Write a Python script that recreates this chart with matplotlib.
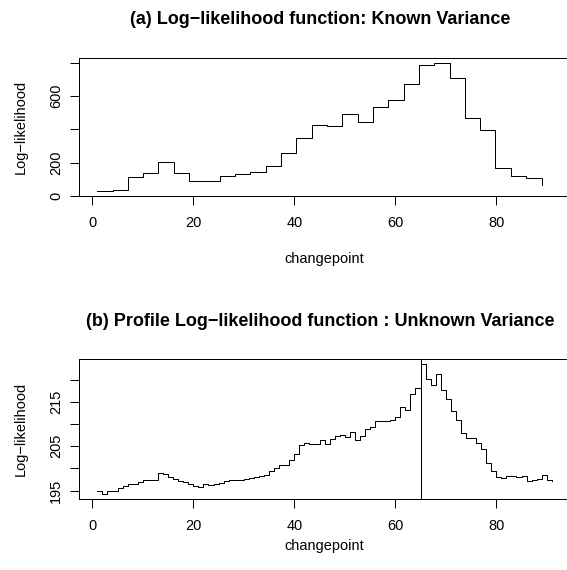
import matplotlib
matplotlib.use("Agg")
import matplotlib.pyplot as plt

plt.rcParams["font.family"] = ["Liberation Sans", "DejaVu Sans"]

W, H, DPI = 567, 570, 72

# ── (a) known variance: coarse grid of changepoints ──────────────────────────
cp_a = [1.0, 4.0, 7.1, 10.1, 13.1, 16.2, 19.2, 22.2, 25.3, 28.3,
        31.3, 34.4, 37.4, 40.4, 43.5, 46.5, 49.5, 52.6, 55.6, 58.6,
        61.7, 64.7, 67.7, 70.8, 73.8, 76.8, 79.8, 82.9, 85.9, 89.0]
ll_a = [30, 38, 112, 140, 206, 138, 90, 92, 122, 130,
        142, 182, 260, 350, 424, 418, 494, 446, 534, 578,
        670, 786, 800, 706, 470, 394, 170, 118, 110, 68]

# ── (b) unknown variance: profile log-likelihood at every changepoint ───────
cp_b = list(range(1, 92))
ll_b = [194.8, 194.3, 195.0, 195.0, 195.6, 196.0, 196.5, 196.5, 197.0, 197.3,
        197.3, 197.4, 199.0, 198.8, 198.0, 197.6, 197.1, 196.9, 196.4, 196.0,
        195.8, 196.5, 196.3, 196.4, 196.7, 197.2, 197.3, 197.3, 197.4, 197.7,
        197.8, 198.1, 198.2, 198.6, 199.4, 200.2, 200.8, 200.8, 201.8, 203.2,
        205.3, 205.7, 205.4, 205.5, 206.4, 205.4, 206.6, 207.3, 207.6, 207.1,
        208.2, 206.4, 207.3, 208.9, 209.4, 210.8, 210.7, 210.8, 211.0, 211.7,
        213.8, 213.2, 216.7, 218.1, 223.6, 220.2, 218.9, 221.4, 217.6, 215.6,
        212.9, 211.0, 207.9, 206.9, 206.8, 205.8, 204.3, 201.3, 199.5, 198.1,
        197.9, 198.3, 198.2, 198.1, 198.4, 197.1, 197.4, 197.5, 198.5, 197.4,
        197.1]
cp_hat = 65

xticks = [0, 20, 40, 60, 80]
yticks_a = [0, 200, 400, 600, 800]
ylabels_a = ["0", "200", "", "600", ""]
yticks_b = [195, 200, 205, 210, 215, 220]
ylabels_b = ["195", "", "205", "", "215", ""]

FS = 14.5


def r_style(ax, yticks, ylabels, xpad):
    # box round the plot region, outward ticks, y labels parallel to the axis
    for s in ax.spines.values():
        s.set_linewidth(1.0)
    ax.set_xticks(xticks)
    ax.set_xticklabels([str(t) for t in xticks])
    ax.set_yticks(yticks)
    ax.set_yticklabels(ylabels, rotation=90, va="center")
    ax.tick_params(direction="out", length=9, width=1.0, labelsize=FS)
    ax.tick_params(axis="x", pad=11)
    ax.tick_params(axis="y", pad=7)
    ax.set_xlim(-2.6, 94.6)
    ax.set_xlabel("changepoint", fontsize=FS, labelpad=xpad)
    ax.set_ylabel("Log\u2212likelihood", fontsize=FS, labelpad=21)


fig = plt.figure(figsize=(W / DPI, H / DPI), dpi=DPI)

# panel boxes in pixels: left, top, right, bottom (right edge runs off the page)
left, right = 79.2, 570.0
ax_a = fig.add_axes([left / W, 1 - 196.0 / H, (right - left) / W, (196.0 - 57.5) / H])
ax_b = fig.add_axes([left / W, 1 - 499.0 / H, (right - left) / W, (499.0 - 358.5) / H])

ax_a.step(cp_a, ll_a, where="post", color="black", lw=1.0)
ax_a.set_ylim(-0.8, 830.8)
r_style(ax_a, yticks_a, ylabels_a, xpad=22)

ax_b.step(cp_b, ll_b, where="post", color="black", lw=1.0)
ax_b.axvline(cp_hat, color="black", lw=1.0)
ax_b.set_ylim(193.1, 224.8)
r_style(ax_b, yticks_b, ylabels_b, xpad=6)

cx = 320.0 / W
fig.text(cx, 1 - 19.0 / H, "(a) Log\u2212likelihood function: Known Variance",
         ha="center", va="center", fontsize=18, fontweight="bold")
fig.text(cx, 1 - 322.0 / H, "(b) Profile Log\u2212likelihood function : Unknown Variance",
         ha="center", va="center", fontsize=18, fontweight="bold")

fig.savefig("out.png", dpi=DPI)
